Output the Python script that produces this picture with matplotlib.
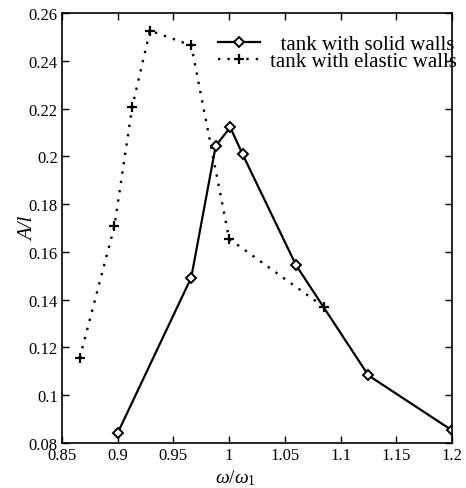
import matplotlib
matplotlib.use("Agg")
import matplotlib.pyplot as plt

plt.rcParams["font.family"] = ["Liberation Serif", "DejaVu Serif"]
plt.rcParams["mathtext.fontset"] = "custom"
plt.rcParams["mathtext.rm"] = "Liberation Serif"
plt.rcParams["mathtext.it"] = "Liberation Serif:italic"

# frequency ratio and amplitude, solid walls
w_solid = [0.900, 0.966, 0.988, 1.001, 1.012, 1.060, 1.125, 1.200]
a_solid = [0.0842, 0.1493, 0.2045, 0.2122, 0.2010, 0.1545, 0.1083, 0.0853]

# elastic walls
w_elastic = [0.866, 0.897, 0.913, 0.929, 0.966, 1.000, 1.085]
a_elastic = [0.1158, 0.1707, 0.2207, 0.2527, 0.2465, 0.1655, 0.1370]

labels = ["  tank with solid walls", "tank with elastic walls"]

fig = plt.figure(figsize=(4.66, 4.89), dpi=100)
ax = fig.add_axes([0.133, 0.092, 0.837, 0.879])

ax.plot(w_solid, a_solid, "k-", lw=1.6, marker="D", ms=5,
        mfc="white", mec="black", mew=1.4, label=labels[0])
ax.plot(w_elastic, a_elastic, color="black", ls=(0, (1, 3)), lw=1.7,
        marker="+", ms=7, mew=1.6, label=labels[1])

ax.set_xlim(0.85, 1.2)
ax.set_ylim(0.08, 0.26)
ax.set_xticks([0.85, 0.9, 0.95, 1.0, 1.05, 1.1, 1.15, 1.2])
ax.set_xticklabels(["0.85", "0.9", "0.95", "1", "1.05", "1.1", "1.15", "1.2"])
ax.set_yticks([0.08, 0.1, 0.12, 0.14, 0.16, 0.18, 0.2, 0.22, 0.24, 0.26])
ax.set_yticklabels(["0.08", "0.1", "0.12", "0.14", "0.16", "0.18", "0.2",
                    "0.22", "0.24", "0.26"])
ax.tick_params(direction="in", top=True, right=True, length=5, width=1,
               labelsize=12, pad=3)
for s in ax.spines.values():
    s.set_linewidth(1.2)

ax.set_xlabel(r"$\omega/\omega_{\mathrm{1}}$", fontsize=14)
ax.xaxis.set_label_coords(0.444, -0.057)
ax.set_ylabel("A/l", fontsize=15, style="italic")
ax.yaxis.set_label_coords(-0.06, 0.5)

leg = ax.legend(loc="upper right", frameon=False, fontsize=15,
                handlelength=2.0, handletextpad=0.5, borderaxespad=0.0,
                labelspacing=-0.1, bbox_to_anchor=(1.035, 0.97))

fig.savefig("out.png", dpi=100)
